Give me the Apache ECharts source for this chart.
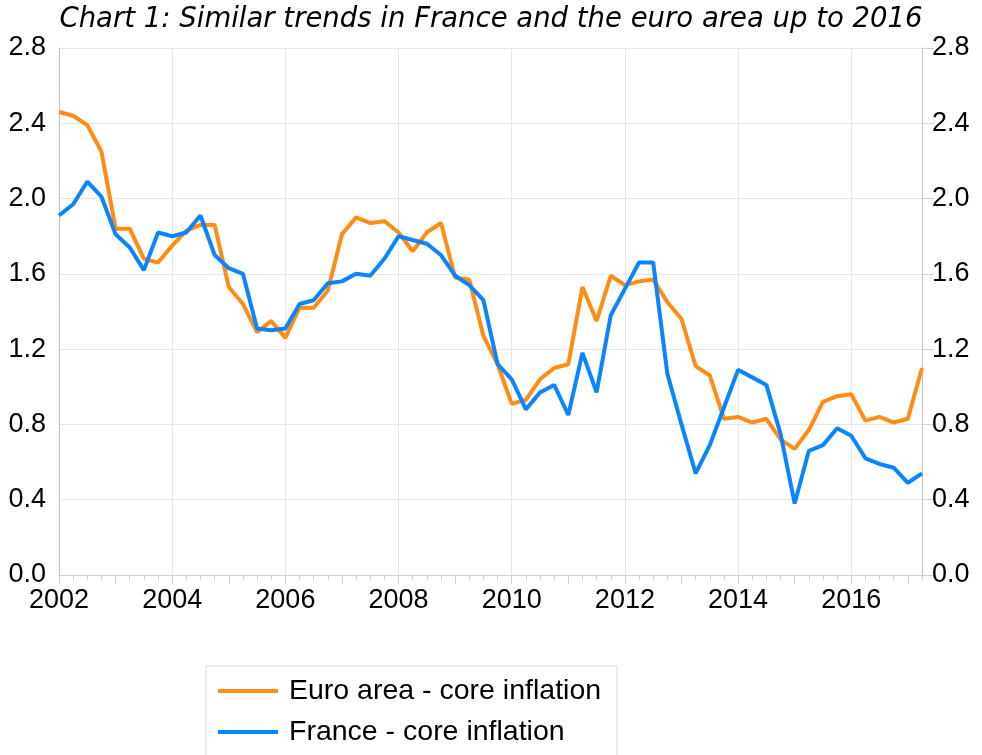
<!DOCTYPE html>
<html>
<head>
<meta charset="utf-8">
<script src="https://cdn.jsdelivr.net/npm/echarts@6/dist/echarts.min.js"></script>
<style>
html,body{margin:0;padding:0;background:#fff;}
#chart{width:982px;height:755px;}
</style>
</head>
<body>
<div id="chart"></div>
<script>
var titleText = 'Chart 1: Similar trends in France and the euro area up to 2016';
var quarters = [
 '2002Q1','2002Q2','2002Q3','2002Q4','2003Q1','2003Q2','2003Q3','2003Q4',
 '2004Q1','2004Q2','2004Q3','2004Q4','2005Q1','2005Q2','2005Q3','2005Q4',
 '2006Q1','2006Q2','2006Q3','2006Q4','2007Q1','2007Q2','2007Q3','2007Q4',
 '2008Q1','2008Q2','2008Q3','2008Q4','2009Q1','2009Q2','2009Q3','2009Q4',
 '2010Q1','2010Q2','2010Q3','2010Q4','2011Q1','2011Q2','2011Q3','2011Q4',
 '2012Q1','2012Q2','2012Q3','2012Q4','2013Q1','2013Q2','2013Q3','2013Q4',
 '2014Q1','2014Q2','2014Q3','2014Q4','2015Q1','2015Q2','2015Q3','2015Q4',
 '2016Q1','2016Q2','2016Q3','2016Q4','2017Q1','2017Q2'
];
var euroName = 'Euro area - core inflation';
var franceName = 'France - core inflation';
var euroCore = [
 2.46, 2.44, 2.39, 2.25, 1.84, 1.84, 1.68, 1.66,
 1.75, 1.83, 1.86, 1.86, 1.53, 1.44, 1.29, 1.35,
 1.26, 1.42, 1.42, 1.51, 1.81, 1.90, 1.87, 1.88,
 1.82, 1.72, 1.82, 1.87, 1.58, 1.57, 1.27, 1.12,
 0.91, 0.93, 1.04, 1.10, 1.12, 1.53, 1.35, 1.59,
 1.54, 1.56, 1.57, 1.45, 1.36, 1.11, 1.06, 0.83,
 0.84, 0.81, 0.83, 0.72, 0.67, 0.77, 0.92, 0.95,
 0.96, 0.82, 0.84, 0.81, 0.83, 1.10
];
var franceCore = [
 1.91, 1.97, 2.09, 2.01, 1.81, 1.74, 1.62, 1.82,
 1.80, 1.82, 1.91, 1.70, 1.63, 1.60, 1.31, 1.30,
 1.31, 1.44, 1.46, 1.55, 1.56, 1.60, 1.59, 1.68,
 1.80, 1.78, 1.76, 1.70, 1.59, 1.54, 1.46, 1.12,
 1.04, 0.88, 0.97, 1.01, 0.85, 1.18, 0.97, 1.38,
 1.52, 1.66, 1.66, 1.07, 0.80, 0.54, 0.69, 0.89,
 1.09, 1.05, 1.01, 0.75, 0.38, 0.66, 0.69, 0.78,
 0.74, 0.62, 0.59, 0.57, 0.49, 0.54
];
var yMin = 0, yMax = 2.8, yStep = 0.4;

var euroColor = '#FF8C14';
var franceColor = '#0A84FF';
var fontMain = 'Liberation Sans, Arial, sans-serif';

var chart = echarts.init(document.getElementById('chart'), null, {renderer: 'canvas'});
function everyTwoYears(idx){ return idx % 8 === 0; }
function everyYear(idx){ return idx % 4 === 0; }

var option = {
  animation: false,
  backgroundColor: '#ffffff',
  title: {
    text: titleText,
    left: 'center',
    top: 1,
    textStyle: {fontFamily: 'DejaVu Sans', fontStyle: 'italic', fontWeight: 'normal', fontSize: 27.5, color: '#000'}
  },
  legend: {
    orient: 'vertical',
    left: 206,
    top: 666,
    height: 120,
    padding: [10, 16, 10, 12],
    borderColor: '#d9d9d9',
    borderWidth: 1,
    itemWidth: 60,
    itemHeight: 4,
    itemGap: 11,
    icon: 'rect',
    textStyle: {fontFamily: fontMain, fontSize: 28.5, color: '#000', lineHeight: 30, padding: [0, 0, 0, 6]},
    data: [euroName, franceName]
  },
  grid: {left: 59, right: 60, top: 48, bottom: 180, containLabel: false},
  xAxis: [{
    type: 'category',
    data: quarters,
    boundaryGap: false,
    axisLine: {show: true, lineStyle: {color: '#d0d0d0', width: 1}},
    axisTick: {show: true, interval: 0, length: 5, lineStyle: {color: '#d0d0d0'}},
    axisLabel: {
      interval: function(idx){ return everyTwoYears(idx); },
      formatter: function(v){ return v.slice(0, 4); },
      fontFamily: fontMain, fontSize: 27, color: '#000', margin: 12
    },
    splitLine: {show: true, interval: function(idx){ return everyTwoYears(idx); }, lineStyle: {color: '#e6e6e6', width: 1}}
  }, {
    type: 'category',
    data: quarters,
    boundaryGap: false,
    position: 'bottom',
    axisLine: {show: false},
    axisTick: {show: true, interval: function(idx){ return everyYear(idx); }, length: 9, lineStyle: {color: '#d0d0d0'}},
    axisLabel: {show: false},
    splitLine: {show: false}
  }],
  yAxis: [{
    type: 'value',
    min: yMin, max: yMax, interval: yStep,
    position: 'left',
    axisLine: {show: true, lineStyle: {color: '#c0c0c0'}},
    axisTick: {show: false},
    axisLabel: {fontFamily: fontMain, fontSize: 27, color: '#000', margin: 13, formatter: function(v){ return v.toFixed(1); }},
    splitLine: {show: true, lineStyle: {color: '#e6e6e6', width: 1}}
  }, {
    type: 'value',
    min: yMin, max: yMax, interval: yStep,
    position: 'right',
    axisLine: {show: true, lineStyle: {color: '#c0c0c0'}},
    axisTick: {show: true, length: 12, lineStyle: {color: '#d0d0d0'}},
    axisLabel: {fontFamily: fontMain, fontSize: 27, color: '#000', margin: 10, formatter: function(v){ return v.toFixed(1); }},
    splitLine: {show: false}
  }],
  series: [{
    name: euroName,
    type: 'line',
    data: euroCore,
    xAxisIndex: 0, yAxisIndex: 0,
    showSymbol: false,
    symbol: 'none',
    color: euroColor,
    lineStyle: {width: 4, color: euroColor},
    z: 2
  }, {
    name: franceName,
    type: 'line',
    data: franceCore,
    xAxisIndex: 0, yAxisIndex: 0,
    showSymbol: false,
    symbol: 'none',
    color: franceColor,
    lineStyle: {width: 4, color: franceColor},
    z: 3
  }]
};
chart.setOption(option);
</script>
</body>
</html>
